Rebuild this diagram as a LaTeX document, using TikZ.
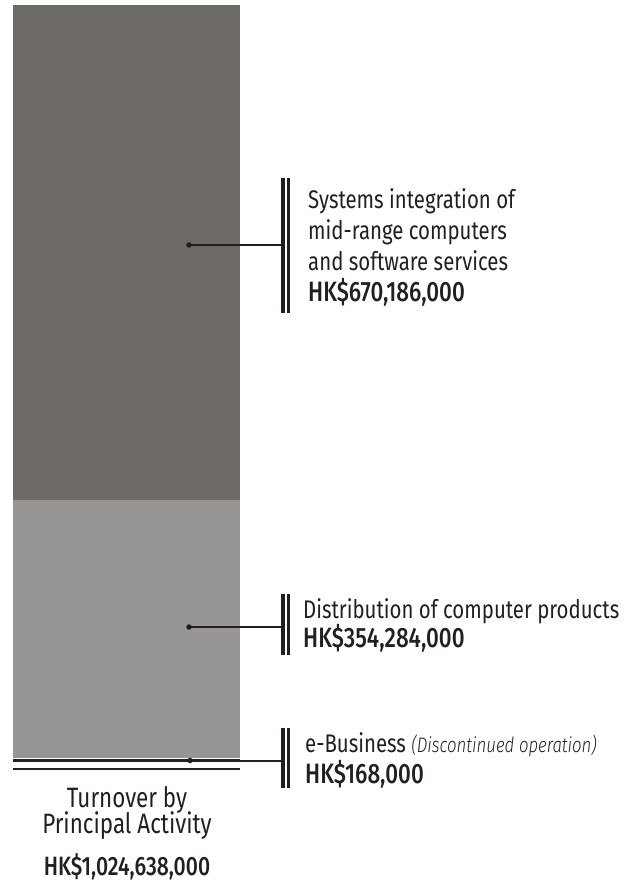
\documentclass[tikz,border=0pt]{standalone}
\usepackage{fontspec}
\setmainfont{Fira Sans}[FakeStretch=0.8, BoldFont={Fira Sans Medium}, ItalicFont={Fira Sans Light Italic}]
\definecolor{darkbar}{HTML}{6E6A67}
\definecolor{lightbar}{HTML}{979694}
\definecolor{ink}{HTML}{231F20}
\tikzset{
  lbl/.style={anchor=base west, inner sep=0pt, text=ink, font=\fontsize{25.5}{31}\selectfont},
  amt/.style={anchor=base west, inner sep=0pt, text=ink, font=\fontsize{28}{31}\selectfont\bfseries},
  ctr/.style={anchor=base, inner sep=0pt, text=ink, font=\fontsize{28}{31}\selectfont},
  ctramt/.style={anchor=base, inner sep=0pt, text=ink, font=\fontsize{26.5}{31}\selectfont\bfseries},
  dotnode/.style={circle, fill=ink, minimum size=5.5pt, inner sep=0pt},
  thickbar/.style={rectangle, fill=ink, minimum width=4pt, inner sep=0pt},
  thinbar/.style={rectangle, fill=ink, minimum width=3pt, inner sep=0pt},
  conn/.style={draw=ink, line width=2pt},
}
\begin{document}
\begin{tikzpicture}[x=1pt,y=-1pt]
\useasboundingbox (0,0) rectangle (638,882);
% bars
\fill[darkbar] (13,5) rectangle (240,500);
\fill[lightbar] (13,500) rectangle (240,758);
\draw[ink, line width=2.5pt] (13,760.5) -- (240,760.5);
\draw[ink, line width=2pt] (13,769.3) -- (240,769.3);
% callout 1
\node[dotnode] (d1) at (189,245) {};
\node[thickbar, minimum height=135pt] (b1) at (283,245.5) {};
\node[thinbar, minimum height=135pt] (c1) at (288.7,245.5) {};
\draw[conn] (d1.center) -- (d1.center -| b1.west);
\node[lbl] (t1a) at (308,208.3) {Systems integration of};
\node[lbl] (t1b) at (308,239.3) {mid-range computers};
\node[lbl] (t1c) at (308,270) {and software services};
\node[amt] (t1d) at (308,301) {HK\$670,186,000};
% callout 2
\node[dotnode] (d2) at (189,627) {};
\node[thickbar, minimum height=61pt] (b2) at (283,624.5) {};
\node[thinbar, minimum height=61pt] (c2) at (288.7,624.5) {};
\draw[conn] (d2.center) -- (d2.center -| b2.west);
\node[lbl] (t2a) at (303,618) {Distribution of computer products};
\node[amt] (t2b) at (303,647) {HK\$354,284,000};
% callout 3
\node[dotnode] (d3) at (190,760.5) {};
\node[thickbar, minimum height=60pt] (b3) at (283,758) {};
\node[thinbar, minimum height=60pt] (c3) at (288.7,758) {};
\draw[conn] (d3.center) -- (d3.center -| b3.west);
\node[lbl] (t3a) at (305,752) {e-Business {\fontsize{21}{22}\selectfont\itshape (Discontinued operation)}};
\node[amt] (t3b) at (305,783) {HK\$168,000};
% bottom caption
\node[ctr] (ca) at (127,807) {Turnover by};
\node[ctr] (cb) at (127,833) {Principal Activity};
\node[ctramt] (cc) at (127,875) {HK\$1,024,638,000};
\end{tikzpicture}
\end{document}
